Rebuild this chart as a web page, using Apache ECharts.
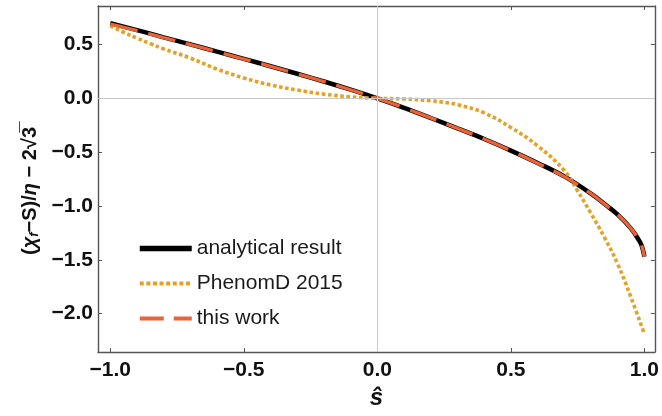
<!DOCTYPE html>
<html>
<head>
<meta charset="utf-8">
<script src="https://cdn.jsdelivr.net/npm/echarts@6/dist/echarts.min.js"></script>
<style>html,body{margin:0;padding:0;background:#fff;}#c{width:662px;height:416px;}</style>
</head>
<body>
<div id="c"></div>
<script>
var seriesNames = ['analytical result', 'PhenomD 2015', 'this work'];

var analytical = [
  [-1.0, 0.70], [-0.9, 0.635], [-0.8, 0.568], [-0.7, 0.502], [-0.6, 0.435], [-0.5, 0.368],
  [-0.4, 0.299], [-0.3, 0.229], [-0.2, 0.157], [-0.1, 0.081], [0.0, 0.0],
  [0.1, -0.088], [0.2, -0.182], [0.3, -0.279], [0.4, -0.377], [0.5, -0.485],
  [0.6, -0.600], [0.7, -0.725], [0.8, -0.885], [0.85, -0.98], [0.9, -1.08],
  [0.95, -1.21], [0.98, -1.32], [0.99, -1.37], [1.0, -1.47]
];

var phenomD = [
  [-1.0, 0.675], [-0.95, 0.615], [-0.9, 0.56], [-0.85, 0.51], [-0.8, 0.46], [-0.7, 0.375],
  [-0.6, 0.272], [-0.5, 0.19], [-0.4, 0.125], [-0.3, 0.078], [-0.2, 0.040],
  [-0.1, 0.015], [0.0, 0.0], [0.1, -0.005], [0.2, -0.022], [0.3, -0.058],
  [0.4, -0.135], [0.5, -0.27], [0.6, -0.44], [0.7, -0.67], [0.75, -0.86],
  [0.8, -1.07], [0.85, -1.29], [0.9, -1.54], [0.95, -1.85], [1.0, -2.19]
];

var thisWork = [
  [-1.0, 0.69], [-0.9, 0.63], [-0.8, 0.565], [-0.7, 0.5], [-0.6, 0.433], [-0.5, 0.366],
  [-0.4, 0.298], [-0.3, 0.228], [-0.2, 0.156], [-0.1, 0.080], [0.0, 0.0],
  [0.1, -0.087], [0.2, -0.181], [0.3, -0.278], [0.4, -0.377], [0.5, -0.486],
  [0.6, -0.602], [0.7, -0.727], [0.8, -0.885], [0.85, -0.98], [0.9, -1.08],
  [0.95, -1.21], [0.98, -1.32], [0.99, -1.37], [1.0, -1.47]
];

var xRange = [-1.046, 1.039];
var yRange = [-2.357, 0.859];

function fmt(v) {
  var s = Math.abs(v).toFixed(1);
  return (v < -1e-9 ? '\u2212' : '') + s;
}

var frame = { show: true, onZero: false, lineStyle: { color: '#555', width: 1.4 } };
var tickIn = { show: true, inside: true, length: 4, lineStyle: { color: '#555', width: 1 } };
var labelStyle = { fontFamily: 'Liberation Sans', fontWeight: 'bold', fontSize: 21, color: '#111' };
var noSym = { color: 'rgba(0,0,0,0)', borderColor: 'rgba(0,0,0,0)', borderWidth: 0, opacity: 0 };

var chart = echarts.init(document.getElementById('c'), null, { renderer: 'canvas' });
chart.setOption({
  animation: false,
  backgroundColor: '#fff',
  grid: { left: 98, right: 6, top: 6, bottom: 64, containLabel: false },
  xAxis: [{
    type: 'value', min: xRange[0], max: xRange[1],
    axisLine: frame, axisTick: tickIn, splitLine: { show: false },
    axisLabel: Object.assign({ formatter: fmt, showMinLabel: false, showMaxLabel: false, margin: 8 }, labelStyle),
    name: '\u015D', nameLocation: 'middle', nameGap: 33,
    nameTextStyle: { fontFamily: 'Liberation Sans', fontWeight: 'bold', fontStyle: 'italic', fontSize: 24, color: '#111' }
  }, {
    type: 'value', min: xRange[0], max: xRange[1], position: 'top',
    axisLine: frame, axisTick: tickIn, axisLabel: { show: false }, splitLine: { show: false }
  }],
  yAxis: [{
    type: 'value', min: yRange[0], max: yRange[1],
    axisLine: frame, axisTick: tickIn, splitLine: { show: false },
    axisLabel: Object.assign({ formatter: fmt, showMinLabel: false, showMaxLabel: false, margin: 5 }, labelStyle),
    name: '(' + '{i|\u03C7}{sub|f}' + '\u2212S)/{i|\u03B7} \u2212 2\u221A3\u0305',
    nameLocation: 'middle', nameGap: 55, nameRotate: 90,
    nameTextStyle: {
      fontFamily: 'Liberation Sans', fontWeight: 'bold', fontSize: 20, color: '#111',
      padding: [0, 24, 0, 0],
      rich: {
        i: { fontFamily: 'Liberation Sans', fontWeight: 'bold', fontStyle: 'italic', fontSize: 20, color: '#111' },
        sub: { fontFamily: 'Liberation Sans', fontWeight: 'bold', fontStyle: 'italic', fontSize: 13, color: '#111', verticalAlign: 'bottom' }
      }
    }
  }, {
    type: 'value', min: yRange[0], max: yRange[1], position: 'right',
    axisLine: frame, axisTick: tickIn, axisLabel: { show: false }, splitLine: { show: false }
  }],
  legend: {
    show: true, orient: 'vertical', left: 132, top: 233,
    data: [
      { name: seriesNames[0], lineStyle: { width: 5.5 }, itemStyle: noSym },
      { name: seriesNames[1], lineStyle: { width: 4, type: [4, 2.6] }, itemStyle: noSym },
      { name: seriesNames[2], lineStyle: { width: 4, type: [24, 10] }, itemStyle: noSym }
    ],
    itemWidth: 52, itemHeight: 14, itemGap: 14,
    itemStyle: noSym,
    textStyle: { fontFamily: 'Liberation Sans', fontSize: 21, color: '#1a1a1a', padding: [0, 0, 0, 0] }
  },
  series: [{
    type: 'line', name: '__grid', data: [], silent: true, z: 1,
    markLine: {
      silent: true, symbol: 'none', label: { show: false },
      lineStyle: { color: '#c8c8c8', width: 1, type: 'solid' },
      data: [{ xAxis: 0 }, { yAxis: 0 }]
    }
  }, {
    type: 'line', name: seriesNames[0], data: analytical, smooth: 0.4, showSymbol: false, symbol: 'none',
    lineStyle: { color: '#000', width: 4.5 }, itemStyle: { color: '#000' }, z: 2
  }, {
    type: 'line', name: seriesNames[1], data: phenomD, smooth: 0.4, showSymbol: false, symbol: 'none',
    lineStyle: { color: '#E6A024', width: 3.6, type: [3.6, 2.6], cap: 'butt' }, itemStyle: { color: '#E6A024' }, z: 3
  }, {
    type: 'line', name: seriesNames[2], data: thisWork, smooth: 0.4, showSymbol: false, symbol: 'none',
    lineStyle: { color: '#EB6236', width: 3.4, type: [28, 11], cap: 'butt' }, itemStyle: { color: '#EB6236' }, z: 4
  }]
});
</script>
</body>
</html>
